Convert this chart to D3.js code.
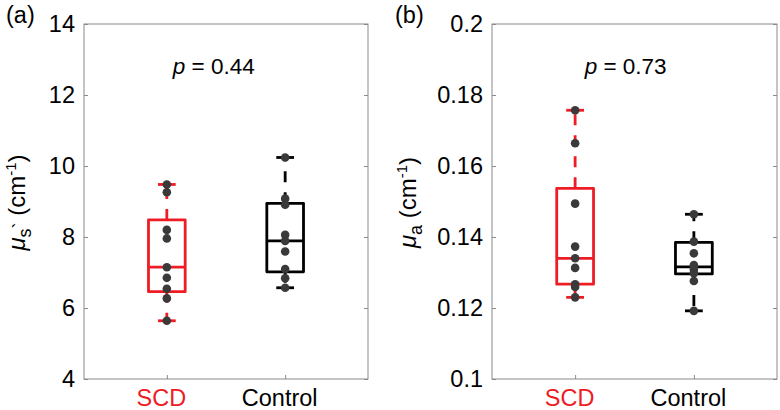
<!DOCTYPE html>
<html><head><meta charset="utf-8">
<script src="https://cdn.jsdelivr.net/npm/d3@7"></script>
<style>body{margin:0;background:#fff}svg{display:block}</style>
</head><body>
<svg id="c" width="780" height="410"></svg>
<script>
const categories = ["SCD", "Control"];
const categoryColors = ["#ee1c24", "#000000"];

const musSCD = [9.48, 9.26, 8.20, 7.96, 7.15, 6.85, 6.54, 6.27, 5.64];
const musControl = [10.24, 9.08, 8.91, 8.06, 7.89, 7.59, 7.10, 6.84, 6.57];
const musSCDQuartiles = [6.46, 7.15, 8.48];
const musControlQuartiles = [7.02, 7.89, 8.95];

const muaSCD = [0.1757, 0.1664, 0.1494, 0.1373, 0.1340, 0.1313, 0.1267, 0.1259, 0.1230];
const muaControl = [0.1464, 0.1387, 0.1354, 0.1321, 0.1316, 0.1308, 0.1298, 0.1276, 0.1192];
const muaSCDQuartiles = [0.1267, 0.1340, 0.1537];
const muaControlQuartiles = [0.1296, 0.1316, 0.1385];

const musTicks = [4, 6, 8, 10, 12, 14];
const musTickLabels = ["4", "6", "8", "10", "12", "14"];
const muaTicks = [0.1, 0.12, 0.14, 0.16, 0.18, 0.2];
const muaTickLabels = ["0.1", "0.12", "0.14", "0.16", "0.18", "0.2"];

const pValues = ["0.44", "0.73"];
const panelLabels = ["(a)", "(b)"];

const FONT = "'Liberation Sans', Arial, Helvetica, sans-serif";
const svg = d3.select("#c");

const panels = [
  { L: 84, R: 368, T: 24, B: 379, domain: [4, 14], ticks: musTicks, tickLabels: musTickLabels,
    groups: [musSCD, musControl], quartiles: [musSCDQuartiles, musControlQuartiles],
    p: pValues[0], pX: 1.05, label: panelLabels[0], labelX: 6, sub: "s", prime: true, yLabelX: 25 },
  { L: 492, R: 777, T: 24, B: 379, domain: [0.1, 0.2], ticks: muaTicks, tickLabels: muaTickLabels,
    groups: [muaSCD, muaControl], quartiles: [muaSCDQuartiles, muaControlQuartiles],
    p: pValues[1], pX: 1.08, label: panelLabels[1], labelX: 395, sub: "a", prime: false, yLabelX: 416 }
];

panels.forEach(P => {
  const g = svg.append("g");
  const x = d3.scaleLinear().domain([0.3, 2.7]).range([P.L, P.R]);
  const y = d3.scaleLinear().domain(P.domain).range([P.B, P.T]);

  g.append("rect").attr("x", P.L).attr("y", P.T).attr("width", P.R - P.L).attr("height", P.B - P.T)
    .attr("fill", "none").attr("stroke", "#8a8a8a").attr("stroke-width", 1);

  const ga = g.append("g").attr("transform", `translate(${P.L},0)`)
    .call(d3.axisLeft(y).tickValues(P.ticks).tickFormat((d, i) => P.tickLabels[i])
      .tickSizeInner(-4).tickSizeOuter(0).tickPadding(9));
  ga.select(".domain").remove();
  ga.selectAll("line").attr("stroke", "#8a8a8a");
  ga.selectAll("text").attr("font-family", FONT).attr("font-size", 23.5).attr("fill", "#000");

  const gr = g.append("g").attr("transform", `translate(${P.R},0)`)
    .call(d3.axisRight(y).tickValues(P.ticks).tickFormat("").tickSizeInner(-4).tickSizeOuter(0));
  gr.select(".domain").remove();
  gr.selectAll("line").attr("stroke", "#8a8a8a");

  const gb = g.append("g").attr("transform", `translate(0,${P.B})`)
    .call(d3.axisBottom(x).tickValues([1, 2]).tickFormat((d, i) => categories[i])
      .tickSizeInner(-4).tickSizeOuter(0).tickPadding(10));
  gb.select(".domain").remove();
  gb.selectAll("line").attr("stroke", "#8a8a8a");
  gb.selectAll("text").attr("font-family", FONT).attr("font-size", 23.5)
    .attr("dx", -6).attr("fill", (d, i) => categoryColors[i]);

  const halfW = 0.155, capW = 0.075;
  P.groups.forEach((vals, i) => {
    const pos = i + 1;
    const col = categoryColors[i];
    const [q1, med, q3] = P.quartiles[i];
    const lo = d3.min(vals), hi = d3.max(vals);
    const bg = g.append("g").attr("stroke", col).attr("stroke-width", 2.8).attr("fill", "none");
    bg.append("line").attr("x1", x(pos)).attr("x2", x(pos)).attr("y1", y(q3)).attr("y2", y(hi))
      .attr("stroke-dasharray", "11,10");
    bg.append("line").attr("x1", x(pos)).attr("x2", x(pos)).attr("y1", y(q1)).attr("y2", y(lo))
      .attr("stroke-dasharray", "11,10");
    [lo, hi].forEach(v => bg.append("line").attr("x1", x(pos - capW)).attr("x2", x(pos + capW))
      .attr("y1", y(v)).attr("y2", y(v)));
    bg.append("rect").attr("x", x(pos - halfW)).attr("y", y(q3))
      .attr("width", x(pos + halfW) - x(pos - halfW)).attr("height", y(q1) - y(q3))
      .attr("stroke-linejoin", "round");
    bg.append("line").attr("x1", x(pos - halfW)).attr("x2", x(pos + halfW))
      .attr("y1", y(med)).attr("y2", y(med));
    g.append("g").selectAll("circle").data(vals).join("circle")
      .attr("cx", x(pos)).attr("cy", d => y(d)).attr("r", 4.3).attr("fill", "#3a3a3a");
  });

  const pt = g.append("text").attr("x", x(P.pX)).attr("y", P.T + 50)
    .attr("font-family", FONT).attr("font-size", 22.5).attr("fill", "#000");
  pt.append("tspan").attr("font-style", "italic").text("p");
  pt.append("tspan").text(" = " + P.p);

  svg.append("text").attr("x", P.labelX).attr("y", 23).attr("font-family", FONT)
    .attr("font-size", 23.5).attr("fill", "#000").text(P.label);

  const ylg = svg.append("g")
    .attr("transform", `translate(${P.yLabelX},${(P.T + P.B) / 2 + 1}) rotate(-90)`);
  const yl = ylg.append("text").attr("x", 0).attr("y", 0)
    .attr("font-family", FONT).attr("font-size", 24).attr("fill", "#000");
  yl.append("tspan").attr("font-style", "italic").text("\u03BC");
  yl.append("tspan").attr("font-size", 18).attr("dy", 6).text(P.sub);
  if (P.prime) {
    yl.append("tspan").attr("font-size", 18).attr("dx", 0).attr("dy", -5).text("`");
    yl.append("tspan").attr("dy", -1).text(" (cm");
  } else {
    yl.append("tspan").attr("dy", -6).text(" (cm");
  }
  yl.append("tspan").attr("font-size", 15).attr("dy", -9).text("-1");
  yl.append("tspan").attr("dy", 9).text(")");
  const w = yl.node().getComputedTextLength();
  yl.attr("x", -w / 2);
});
</script>
</body></html>
